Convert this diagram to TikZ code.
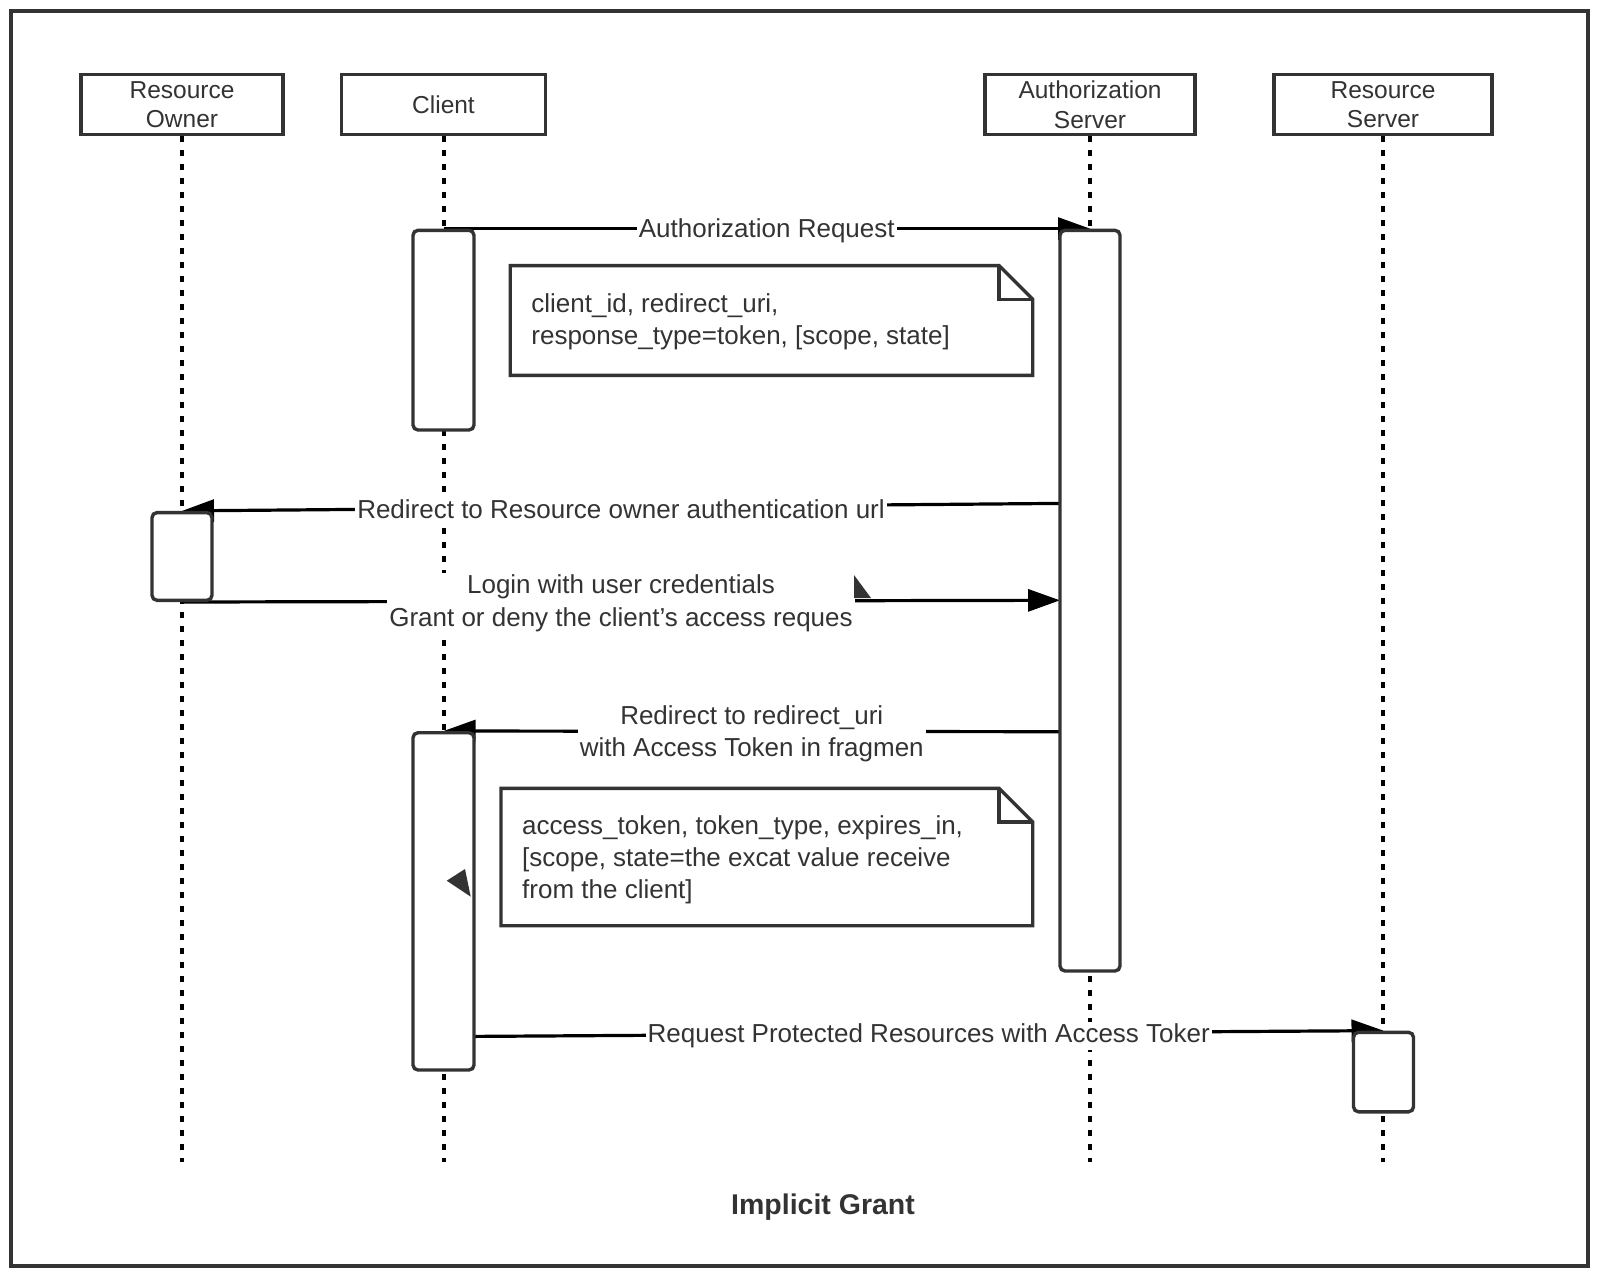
\documentclass[tikz,border=0pt]{standalone}
\usepackage{fontspec}
\setmainfont{Liberation Sans}
\usetikzlibrary{calc,fit,arrows.meta}
\definecolor{ink}{HTML}{333333}
\pgfdeclarelayer{bg}
\pgfsetlayers{bg,main}
\tikzset{
  hdr/.style={draw, line width=1.7pt, fill=white, align=center, inner sep=0pt,
    minimum height=30pt, font=\fontsize{12.25}{14.8}\selectfont},
  life/.style={line width=2pt, dash pattern=on 3pt off 4pt},
  act/.style={draw, fill=white, rounded corners=2.5pt, line width=1.7pt, inner sep=0pt},
  msg/.style={line width=1.6pt, -{Triangle[length=16pt,width=11pt]}},
  lbl/.style={fill=white, inner sep=1pt, yshift=-1.2pt, font=\fontsize{13}{16.3}\selectfont, align=center},
  notebox/.style={inner sep=0pt},
  noteline/.style={draw, fill=white, line width=1.7pt, line join=miter},
  notetext/.style={anchor=west, align=left, inner sep=0pt, font=\fontsize{13}{16}\selectfont},
  ttl/.style={font=\bfseries\fontsize{14.25}{17}\selectfont}
}
\begin{document}
\begin{tikzpicture}[x=0.5pt,y=-0.5pt,color=ink]
\useasboundingbox (0,0) rectangle (1598,1285);
\draw[line width=2pt] (10.5,11) rectangle (1588,1266);

% headers
\node[hdr, minimum width=100.9pt] (hro) at (182,104.5) {Resource\\Owner};
\node[hdr, minimum width=101.9pt] (hcl) at (443.5,104.5) {Client};
\node[hdr, minimum width=105pt] (has) at (1090,104.5) {Authorization\\Server};
\node[hdr, minimum width=109pt] (hrs) at (1383,104.5) {Resource\\Server};

% lifeline ends
\coordinate (ero) at (182,1161.8);
\coordinate (ecl) at (443.5,1161.8);
\coordinate (eas) at (1090,1161.8);
\coordinate (ers) at (1383,1161.8);

% activation boxes
\node[act, fit={(413,230.3) (474,430)}] (cl1) {};
\node[act, fit={(1060,230.3) (1120,971)}] (asb) {};
\node[act, fit={(152,512.6) (212,600.3)}] (rob) {};
\node[act, fit={(413,732.7) (474,1070)}] (cl2) {};
\node[act, fit={(1353.5,1032.3) (1413.5,1111.8)}] (rsb) {};

% message free ends
\coordinate (m2s) at (1060,503.4);
\coordinate (m3e) at (1060,600.3);
\coordinate (m4s) at (1060,731.7);
\coordinate (m5s) at (474,1036.4);

\begin{pgfonlayer}{bg}
\draw[life] (hro.south) -- (ero);
\draw[life] (hcl.south) -- (ecl);
\draw[life] (has.south) -- (eas);
\draw[life] (hrs.south) -- (ers);

\draw[msg] (cl1.north) -- (asb.north) node[midway, lbl] {Authorization Request};
\draw[msg] (m2s) -- (rob.north) node[midway, lbl] {Redirect to Resource owner authentication url};
\draw[msg] (rob.south) -- (m3e) node[midway, lbl] {Login with user credentials\\Grant or deny the client's access reques};
\draw[msg] (m4s) -- (cl2.north) node[midway, lbl] {Redirect to redirect\_uri\\with Access Token in fragmen};
\draw[msg] (m5s) -- (rsb.north) node[midway, lbl] {Request Protected Resources with Access Toker};
\end{pgfonlayer}

% notes
\node[notebox, fit={(510.6,266) (1032.3,375)}] (n1) {};
\draw[noteline] (n1.south west) -- (n1.north west) -- ($(n1.north east)+(-33.6,0)$)
  -- ($(n1.north east)+(0,33.6)$) -- (n1.south east) -- cycle;
\draw[line width=1.7pt] ($(n1.north east)+(-33.6,0)$) |- ($(n1.north east)+(0,33.6)$);
\node[notetext] (t1) at (531,322) {client\_id, redirect\_uri,\\response\_type=token, {[}scope, state{]}};

\node[notebox, fit={(501.4,788.8) (1032.3,925.3)}] (n2) {};
\draw[noteline] (n2.south west) -- (n2.north west) -- ($(n2.north east)+(-33.6,0)$)
  -- ($(n2.north east)+(0,33.6)$) -- (n2.south east) -- cycle;
\draw[line width=1.7pt] ($(n2.north east)+(-33.6,0)$) |- ($(n2.north east)+(0,33.6)$);
\node[notetext] (t2) at (521.8,859.5) {access\_token, token\_type, expires\_in,\\{[}scope, state=the excat value receive\\from the client{]}};

% stray arrowhead fragments
\fill (854,575) -- (871,598) -- (854,598) -- cycle;
\fill (446.7,880.7) -- (465,869) -- (470.7,896.7) -- cycle;

\node[ttl] (title) at (823,1207) {Implicit Grant};
\end{tikzpicture}
\end{document}
